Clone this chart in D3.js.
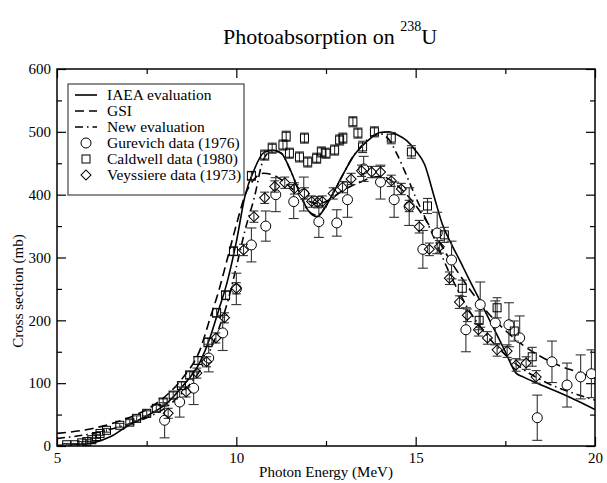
<!DOCTYPE html>
<html>
<head>
<meta charset="utf-8">
<script src="https://cdn.jsdelivr.net/npm/d3@7"></script>
<style>
  body { margin: 0; background: #fff; }
  svg { display: block; font-family: 'Liberation Serif', serif; }
</style>
</head>
<body>
<svg class="svg" width="607" height="483"></svg>
<script>
// IAEA evaluation (solid)
const iaeaE = [5, 5.5, 6, 6.5, 7, 7.5, 8, 8.5, 9, 9.25, 9.5, 9.75, 10, 10.25, 10.5, 10.75, 11, 11.25, 11.5, 11.75, 12, 12.25, 12.5, 12.75, 13, 13.25, 13.5, 13.75, 14, 14.25, 14.5, 14.75, 15, 15.25, 15.5, 15.75, 16, 16.25, 16.5, 16.75, 17, 17.25, 17.5, 17.8, 18, 18.5, 19, 19.5, 20];
const iaeaS = [1, 2, 5, 15, 33, 48, 65, 95, 135, 170, 215, 262, 325, 400, 440, 466, 471, 466, 440, 405, 375, 365, 382, 408, 435, 460, 477, 490, 499, 500, 495, 486, 470, 448, 400, 352, 321, 293, 264, 236, 207, 179, 150, 116, 110, 97, 85, 72, 58];

// GSI (dashed)
const gsiE = [5, 6, 7, 7.5, 8, 8.5, 9, 9.25, 9.5, 9.75, 10, 10.25, 10.5, 10.75, 11, 11.25, 11.5, 11.75, 12, 12.25, 12.5, 12.75, 13, 13.25, 13.5, 13.75, 14, 14.25, 14.5, 14.75, 15, 15.5, 16, 16.5, 17, 17.5, 18, 18.5, 19, 19.5, 20];
const gsiS = [20, 28, 45, 58, 78, 108, 155, 200, 245, 298, 352, 400, 425, 434, 432, 424, 412, 400, 390, 386, 389, 398, 408, 415, 421, 427, 429, 425, 414, 400, 383, 340, 292, 250, 213, 184, 160, 142, 128, 118, 108];

// New evaluation (dash-dot)
const newE = [5, 6, 7, 7.5, 8, 8.5, 9, 9.25, 9.5, 9.75, 10, 10.25, 10.5, 10.75, 11, 11.25, 11.5, 11.75, 12, 12.25, 12.5, 12.75, 13, 13.25, 13.5, 13.75, 14, 14.25, 14.5, 14.75, 15, 15.25, 15.5, 15.75, 16, 16.25, 16.5, 17, 17.5, 18, 18.5, 19, 19.5, 20];
const newS = [12, 20, 35, 45, 60, 85, 122, 150, 185, 228, 285, 345, 395, 455, 470, 466, 440, 405, 375, 367, 382, 408, 435, 460, 478, 492, 497, 488, 462, 430, 396, 365, 333, 300, 268, 240, 215, 175, 145, 122, 105, 92, 82, 73];

// Gurevich data (1976): energy, cross section, error
const gurE = [8.0, 8.42, 8.81, 9.23, 9.62, 10.0, 10.42, 10.82, 11.1, 11.6, 11.88, 12.3, 12.8, 13.1, 13.55, 14.02, 14.4, 14.82, 15.2, 15.6, 16.0, 16.4, 16.8, 17.22, 17.6, 17.9, 18.39, 18.8, 19.22, 19.6, 19.9];
const gurS = [41, 70, 92, 140, 180, 250, 320, 350, 400, 389, 401, 357, 355, 392, 441, 420, 392, 381, 313, 339, 296, 185, 225, 196, 193, 172, 45, 134, 97, 110, 115];
const gurErr = [28, 24, 26, 22, 28, 25, 27, 24, 27, 27, 27, 25, 21, 28, 20, 27, 28, 30, 30, 33, 30, 35, 36, 35, 35, 35, 36, 33, 35, 35, 38];

// Caldwell data (1980)
const calE = [5.27, 5.5, 5.69, 5.83, 5.97, 6.1, 6.2, 6.38, 6.75, 7.03, 7.22, 7.5, 7.77, 7.96, 8.24, 8.47, 8.7, 8.93, 9.21, 9.45, 9.7, 9.92, 10.42, 10.79, 11.0, 11.3, 11.39, 11.48, 11.76, 11.9, 11.99, 12.24, 12.37, 12.5, 12.74, 12.88, 12.97, 13.25, 13.39, 13.52, 13.85, 14.32, 14.88, 15.33, 15.8, 16.3, 16.77, 17.27, 17.75, 18.25];
const calS = [2, 2, 5, 7, 10, 15, 20, 25, 33, 38, 44, 52, 60, 70, 81, 96, 113, 136, 165, 212, 240, 310, 430, 463, 474, 479, 493, 466, 460, 490, 452, 458, 468, 466, 471, 487, 490, 516, 498, 476, 500, 490, 468, 382, 336, 251, 200, 220, 183, 142];
const calErr = [2, 2, 2, 3, 3, 3, 3, 3, 3, 4, 4, 4, 5, 5, 5, 6, 6, 6, 7, 7, 7, 7, 7, 8, 8, 8, 8, 8, 8, 8, 8, 8, 8, 8, 8, 8, 8, 8, 8, 9, 8, 9, 10, 12, 12, 13, 15, 16, 16, 15];

// Veyssiere data (1973)
const veyE = [8.1, 8.6, 8.9, 9.17, 9.43, 9.67, 10.0, 10.2, 10.49, 10.79, 11.07, 11.35, 11.62, 11.9, 12.1, 12.26, 12.4, 12.7, 12.96, 13.2, 13.49, 13.77, 14.02, 14.32, 14.6, 14.82, 15.1, 15.38, 15.66, 15.94, 16.22, 16.44, 16.75, 17.0, 17.27, 17.55, 17.8, 18.08, 18.36];
const veyS = [52, 86, 116, 134, 172, 204, 251, 312, 365, 395, 413, 419, 410, 402, 389, 388, 389, 402, 412, 425, 438, 436, 436, 422, 409, 382, 349, 313, 317, 267, 229, 208, 185, 172, 153, 151, 129, 132, 110];
const veyErr = [8, 8, 8, 8, 8, 8, 9, 9, 9, 9, 9, 9, 9, 9, 9, 9, 9, 9, 9, 9, 9, 9, 9, 9, 9, 9, 10, 10, 10, 10, 10, 10, 10, 10, 10, 10, 10, 10, 10];

const xMajor = [5, 10, 15, 20];
const xMinor = [7.5, 12.5, 17.5];
const yMajor = [0, 100, 200, 300, 400, 500, 600];
const yMinor = [50, 150, 250, 350, 450, 550];

function drawChart () {
    const width = 607;
    const height = 483;
    const margin = { top: 69, right: 12, bottom: 37, left: 57 };
    const x0 = margin.left, x1 = width - margin.right;
    const y0 = height - margin.bottom, y1 = margin.top;

    const svg = d3.select('.svg');

    const xScale = d3.scaleLinear().domain([5, 20]).range([x0, x1]);
    const yScale = d3.scaleLinear().domain([0, 600]).range([y0, y1]);

    svg.append('defs').append('clipPath')
        .attr('id', 'plot-clip')
        .append('rect')
        .attr('x', x0).attr('y', y1)
        .attr('width', x1 - x0).attr('height', y0 - y1);

    /* AXES */
    const axes = [
        [d3.axisBottom(xScale).tickValues(xMajor).tickSizeInner(-9).tickSizeOuter(0).tickPadding(6), `translate(0, ${y0})`],
        [d3.axisBottom(xScale).tickValues(xMinor).tickSize(-5).tickFormat(''), `translate(0, ${y0})`],
        [d3.axisTop(xScale).tickValues(xMajor).tickSize(-9).tickFormat(''), `translate(0, ${y1})`],
        [d3.axisTop(xScale).tickValues(xMinor).tickSize(-5).tickFormat(''), `translate(0, ${y1})`],
        [d3.axisLeft(yScale).tickValues(yMajor).tickSizeInner(-9).tickSizeOuter(0).tickPadding(6), `translate(${x0}, 0)`],
        [d3.axisLeft(yScale).tickValues(yMinor).tickSize(-5).tickFormat(''), `translate(${x0}, 0)`],
        [d3.axisRight(yScale).tickValues(yMajor).tickSize(-9).tickFormat(''), `translate(${x1}, 0)`],
        [d3.axisRight(yScale).tickValues(yMinor).tickSize(-5).tickFormat(''), `translate(${x1}, 0)`]
    ];
    axes.forEach(([axis, tr]) => {
        const g = svg.append('g').attr('transform', tr).call(axis);
        g.select('.domain').remove();
        g.selectAll('line').attr('stroke', '#000').attr('stroke-width', 1.2);
        g.attr('font-family', "'Liberation Serif', serif").attr('font-size', 15);
        g.selectAll('text').attr('fill', '#000');
    });

    svg.append('rect')
        .attr('x', x0).attr('y', y1)
        .attr('width', x1 - x0).attr('height', y0 - y1)
        .attr('fill', 'none')
        .attr('stroke', '#000')
        .attr('stroke-width', 1.5);

    /* LABELS */
    const title = svg.append('text')
        .attr('x', (x0 + x1) / 2 + 4)
        .attr('y', 44)
        .attr('text-anchor', 'middle')
        .style('font-size', '22px');
    title.append('tspan').text('Photoabsorption on ');
    title.append('tspan').attr('dy', -13).style('font-size', '14px').text('238');
    title.append('tspan').attr('dy', 13).text('U');

    svg.append('text')
        .attr('x', (x0 + x1) / 2)
        .attr('y', 477)
        .attr('text-anchor', 'middle')
        .style('font-size', '15px')
        .text('Photon Energy (MeV)');

    svg.append('text')
        .attr('transform', 'rotate(-90)')
        .attr('x', -291)
        .attr('y', 23)
        .attr('text-anchor', 'middle')
        .style('font-size', '15px')
        .text('Cross section (mb)');

    /* CURVES */
    const line = d3.line()
        .x(d => xScale(d[0]))
        .y(d => yScale(d[1]))
        .curve(d3.curveMonotoneX);

    const plot = svg.append('g').attr('clip-path', 'url(#plot-clip)');

    const curves = [
        { e: iaeaE, s: iaeaS, dash: null },
        { e: gsiE, s: gsiS, dash: '9,5' },
        { e: newE, s: newS, dash: '8,4,1.5,4' }
    ];
    curves.forEach(c => {
        plot.append('path')
            .datum(d3.zip(c.e, c.s))
            .attr('d', line)
            .attr('fill', 'none')
            .attr('stroke', '#000')
            .attr('stroke-width', 1.6)
            .attr('stroke-dasharray', c.dash);
    });

    /* DATA POINTS WITH ERROR BARS */
    function errorBars (e, s, err, cap, colour) {
        const pts = d3.zip(e, s, err);
        const g = plot.append('g').attr('stroke', colour).attr('stroke-width', 1.1);
        g.selectAll('.bar').data(pts).enter().append('line')
            .attr('x1', d => xScale(d[0])).attr('x2', d => xScale(d[0]))
            .attr('y1', d => yScale(d[1] - d[2])).attr('y2', d => yScale(d[1] + d[2]));
        [-1, 1].forEach(sign => {
            g.selectAll('.cap').data(pts).enter().append('line')
                .attr('x1', d => xScale(d[0]) - cap).attr('x2', d => xScale(d[0]) + cap)
                .attr('y1', d => yScale(d[1] + sign * d[2]))
                .attr('y2', d => yScale(d[1] + sign * d[2]));
        });
        return pts;
    }

    const gurPts = errorBars(gurE, gurS, gurErr, 5, '#333');
    plot.append('g').selectAll('circle').data(gurPts).enter().append('circle')
        .attr('cx', d => xScale(d[0]))
        .attr('cy', d => yScale(d[1]))
        .attr('r', 5)
        .attr('fill', '#fff')
        .attr('stroke', '#000')
        .attr('stroke-width', 1);

    const calPts = errorBars(calE, calS, calErr, 4.5, '#333');
    plot.append('g').selectAll('rect').data(calPts).enter().append('rect')
        .attr('x', d => xScale(d[0]) - 4)
        .attr('y', d => yScale(d[1]) - 4)
        .attr('width', 8).attr('height', 8)
        .attr('fill', 'none')
        .attr('stroke', '#000')
        .attr('stroke-width', 1);

    const veyPts = errorBars(veyE, veyS, veyErr, 4.5, '#333');
    const diamond = d3.symbol(d3.symbolSquare, 50);
    plot.append('g').selectAll('path').data(veyPts).enter().append('path')
        .attr('d', diamond)
        .attr('transform', d => `translate(${xScale(d[0])}, ${yScale(d[1])}) rotate(45)`)
        .attr('fill', 'none')
        .attr('stroke', '#000')
        .attr('stroke-width', 1);

    /* LEGEND */
    const legend = svg.append('g').attr('id', 'legend');
    legend.append('rect')
        .attr('x', 68).attr('y', 84)
        .attr('width', 176).attr('height', 111)
        .attr('fill', '#fff')
        .attr('stroke', '#444')
        .attr('stroke-width', 1.2);

    const entries = ['IAEA evaluation', 'GSI', 'New evaluation', 'Gurevich data (1976)', 'Caldwell data (1980)', 'Veyssiere data (1973)'];
    entries.forEach((label, i) => {
        const by = 100 + i * 16;
        legend.append('text')
            .attr('x', 107).attr('y', by)
            .style('font-size', '15.5px')
            .text(label);
        const cy = by - 5;
        if (i < 3) {
            legend.append('line')
                .attr('x1', 75).attr('x2', 97)
                .attr('y1', cy).attr('y2', cy)
                .attr('stroke', '#000')
                .attr('stroke-width', 1.6)
                .attr('stroke-dasharray', curves[i].dash);
        } else if (i === 3) {
            legend.append('circle').attr('cx', 86).attr('cy', cy).attr('r', 5)
                .attr('fill', 'none').attr('stroke', '#000');
        } else if (i === 4) {
            legend.append('rect').attr('x', 82).attr('y', cy - 4).attr('width', 8).attr('height', 8)
                .attr('fill', 'none').attr('stroke', '#000');
        } else {
            legend.append('path').attr('d', diamond)
                .attr('transform', `translate(86, ${cy}) rotate(45)`)
                .attr('fill', 'none').attr('stroke', '#000');
        }
    });
}

document.addEventListener('DOMContentLoaded', () => drawChart());
</script>
</body>
</html>
